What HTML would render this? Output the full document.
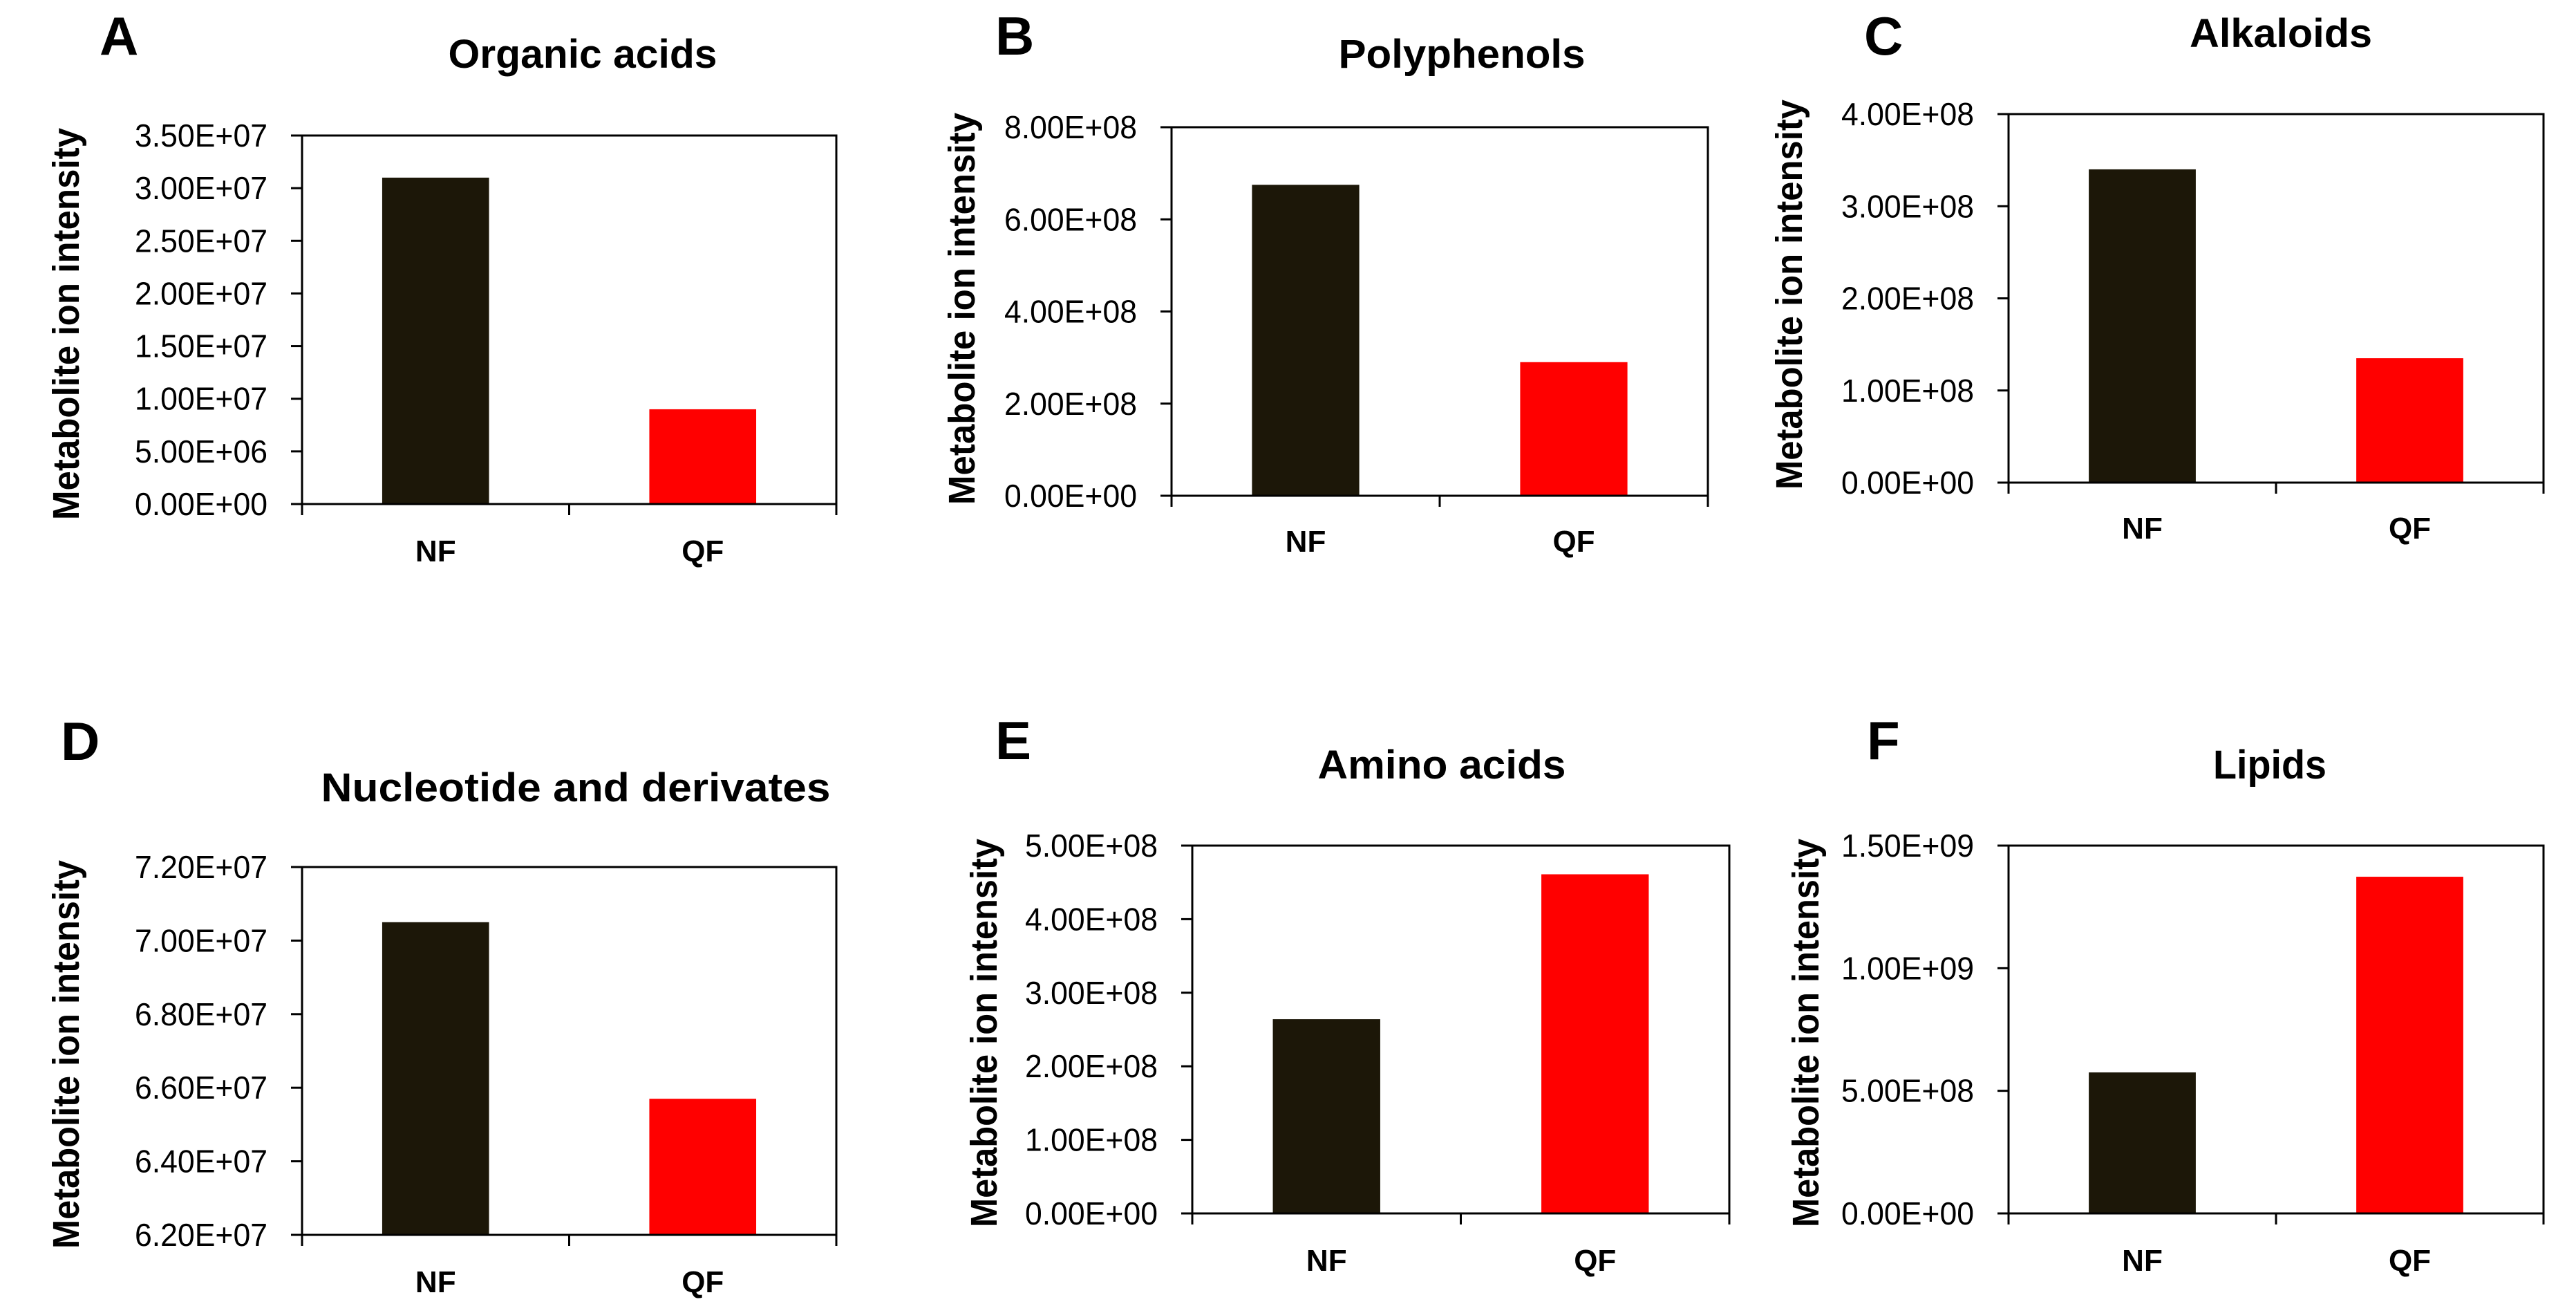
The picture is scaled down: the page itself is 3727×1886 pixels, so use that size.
<!DOCTYPE html>
<html><head><meta charset="utf-8"><style>
html,body{margin:0;padding:0;background:#fff;}
svg{display:block;}
text{font-family:"Liberation Sans",sans-serif;fill:#000;}
</style></head><body>
<svg id="fig" width="3727" height="1886" viewBox="0 0 3727 1886" xmlns="http://www.w3.org/2000/svg"></svg>
<script>
const categories = ["NF", "QF"];
const titles = ["Organic acids", "Polyphenols", "Alkaloids", "Nucleotide and derivates", "Amino acids", "Lipids"];
const letters = ["A", "B", "C", "D", "E", "F"];
const valuesA = [3.10e7, 0.90e7];
const valuesB = [6.75e8, 2.90e8];
const valuesC = [3.40e8, 1.35e8];
const valuesD = [7.05e7, 6.57e7];
const valuesE = [2.64e8, 4.61e8];
const valuesF = [5.75e8, 1.373e9];
const ticksA = ["0.00E+00","5.00E+06","1.00E+07","1.50E+07","2.00E+07","2.50E+07","3.00E+07","3.50E+07"];
const ticksB = ["0.00E+00","2.00E+08","4.00E+08","6.00E+08","8.00E+08"];
const ticksC = ["0.00E+00","1.00E+08","2.00E+08","3.00E+08","4.00E+08"];
const ticksD = ["6.20E+07","6.40E+07","6.60E+07","6.80E+07","7.00E+07","7.20E+07"];
const ticksE = ["0.00E+00","1.00E+08","2.00E+08","3.00E+08","4.00E+08","5.00E+08"];
const ticksF = ["0.00E+00","5.00E+08","1.00E+09","1.50E+09"];
const allValues = [valuesA, valuesB, valuesC, valuesD, valuesE, valuesF];
const allTicks = [ticksA, ticksB, ticksC, ticksD, ticksE, ticksF];

const layout = [
 {l:437,r:1210,t:196,b:729, tx:843,tw:389,ty:98, lx:144,ly:79, yt:96,ys:185,ye:752, cy:812},
 {l:1695,r:2471,t:184,b:717, tx:2115,tw:357,ty:98, lx:1440,ly:79, yt:1392,ys:163,ye:730, cy:798},
 {l:2906,r:3680,t:165,b:698, tx:3300,tw:264,ty:68, lx:2697,ly:79, yt:2589,ys:144,ye:708, cy:779},
 {l:437,r:1210,t:1254,b:1786, tx:833,tw:737,ty:1159, lx:88,ly:1099, yt:96,ys:1244,ye:1806, cy:1869},
 {l:1725,r:2502,t:1223,b:1755, tx:2086,tw:359,ty:1126, lx:1440,ly:1098, yt:1424,ys:1213,ye:1775, cy:1838},
 {l:2906,r:3680,t:1223,b:1755, tx:3284,tw:164,ty:1126, lx:2701,ly:1098, yt:2613,ys:1213,ye:1775, cy:1838}
];
const colors = ["#1c1708", "#ff0000"];
const NS = "http://www.w3.org/2000/svg";
const svg = document.getElementById("fig");
function mk(tag, attrs, parent){
  const e = document.createElementNS(NS, tag);
  for (const k in attrs) e.setAttribute(k, attrs[k]);
  (parent||svg).appendChild(e);
  return e;
}
allValues.forEach((vals, i) => {
  const L = layout[i];
  const ticks = allTicks[i];
  const tv = ticks.map(Number);
  const vmin = tv[0], vmax = tv[tv.length-1];
  const y = v => L.b - (v - vmin) / (vmax - vmin) * (L.b - L.t);
  const band = (L.r - L.l) / categories.length;
  const x = k => L.l + band * (k + 0.5);
  const g = mk("g", {});
  
  
  const lt = mk("text", {x:L.lx, y:L.ly, "font-size":78, "font-weight":"bold"}, g);
  lt.textContent = letters[i];
  
  
  const tt = mk("text", {x:L.tx, y:L.ty, "font-size":58, "font-weight":"bold", "text-anchor":"middle", textLength:L.tw, lengthAdjust:"spacingAndGlyphs"}, g);
  tt.textContent = titles[i];
  
  
  const ym = (L.ys + L.ye) / 2;
  const yl = mk("text", {x:0, y:0, "font-size":54, "font-weight":"bold", "text-anchor":"middle", "dominant-baseline":"central", textLength:(L.ye-L.ys), lengthAdjust:"spacingAndGlyphs", transform:`translate(${L.yt},${ym}) rotate(-90)`}, g);
  yl.textContent = "Metabolite ion intensity";
  
  
  vals.forEach((v, k) => {
    const bw = band * 0.4;
    const r = mk("rect", {x:x(k)-bw/2, y:y(v), width:bw, height:L.b - y(v), fill:colors[k]}, g);
    
    
  });
  const fr = mk("rect", {x:L.l, y:L.t, width:L.r-L.l, height:L.b-L.t, fill:"none", stroke:"#000", "stroke-width":3}, g);
  
  
  ticks.forEach((t, j) => {
    const yy = y(tv[j]);
    mk("line", {x1:L.l-16, x2:L.l, y1:yy, y2:yy, stroke:"#000", "stroke-width":3}, g);
    const lab = mk("text", {x:L.l-50, y:yy, "font-size":46, "text-anchor":"end", "dominant-baseline":"central", textLength:192, lengthAdjust:"spacingAndGlyphs"}, g);
    lab.textContent = t;
    
    
  });
  for (let k = 0; k <= categories.length; k++) {
    const xx = L.l + band * k;
    mk("line", {x1:xx, x2:xx, y1:L.b, y2:L.b+16, stroke:"#000", "stroke-width":3}, g);
  }
  categories.forEach((c, k) => {
    const cl = mk("text", {x:x(k), y:L.cy, "font-size":44, "font-weight":"bold", "text-anchor":"middle"}, g);
    cl.textContent = c;
    
    
  });
});
</script>
</body></html>
